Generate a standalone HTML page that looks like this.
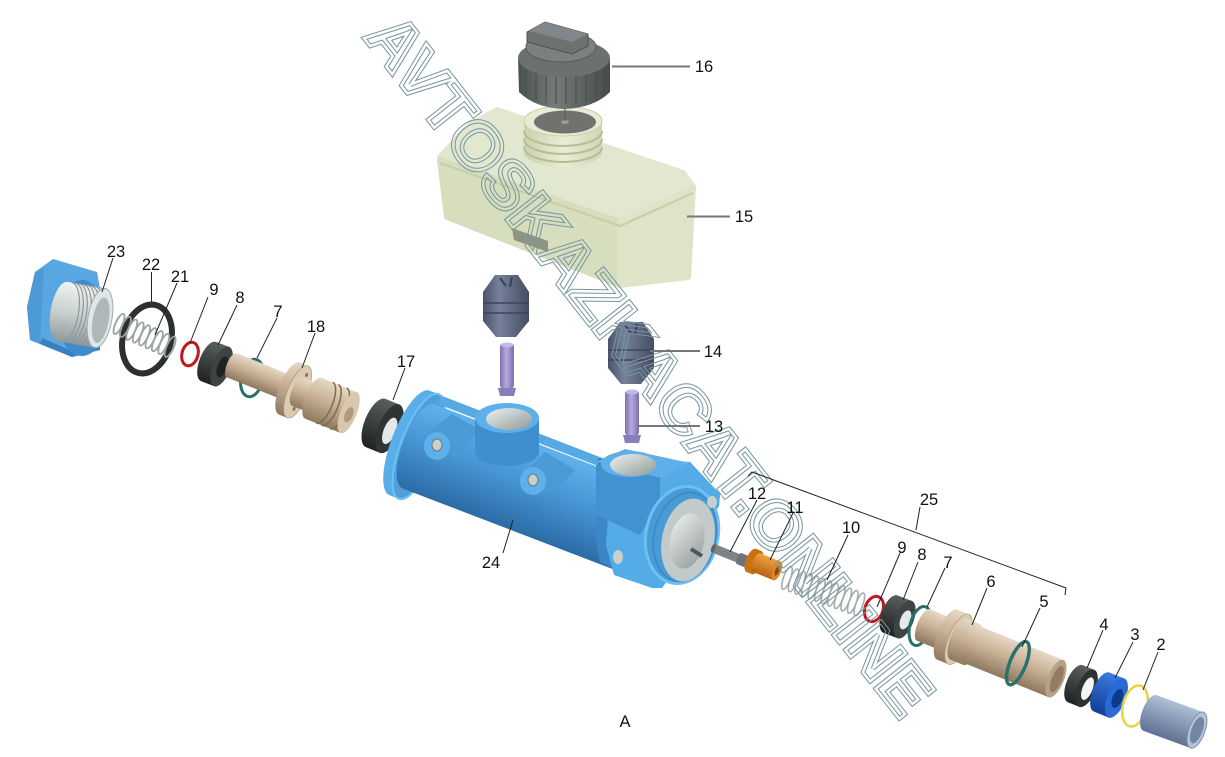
<!DOCTYPE html>
<html><head><meta charset="utf-8">
<style>
html,body{margin:0;padding:0;background:#fff;overflow:hidden;}
svg{display:block;}
.lb{font-family:"Liberation Sans",Arial,sans-serif;font-size:16.5px;fill:#111;text-anchor:middle;}
</style></head>
<body>
<svg width="1225" height="757" viewBox="0 0 1225 757" xmlns="http://www.w3.org/2000/svg">
<defs>
 <linearGradient id="gBlue" x1="0" y1="0" x2="0" y2="1"><stop offset="0" stop-color="#5fb2ec"/><stop offset="0.5" stop-color="#4592d0"/><stop offset="1" stop-color="#2b6ca6"/></linearGradient>
 <linearGradient id="gBeige" x1="0" y1="0" x2="0" y2="1"><stop offset="0" stop-color="#e6d8c4"/><stop offset="0.45" stop-color="#c9b296"/><stop offset="1" stop-color="#8e785e"/></linearGradient>
 <linearGradient id="gDark" x1="0" y1="0" x2="0" y2="1"><stop offset="0" stop-color="#5a5f60"/><stop offset="0.5" stop-color="#3c4041"/><stop offset="1" stop-color="#1f2223"/></linearGradient>
 <linearGradient id="gSilver" x1="0" y1="0" x2="0" y2="1"><stop offset="0" stop-color="#f0f4f4"/><stop offset="0.5" stop-color="#c8d0d0"/><stop offset="1" stop-color="#909a9a"/></linearGradient>
 <linearGradient id="gSlate" x1="0" y1="0" x2="1" y2="0"><stop offset="0" stop-color="#4a5369"/><stop offset="0.35" stop-color="#75809a"/><stop offset="1" stop-color="#454d62"/></linearGradient>
 <linearGradient id="gPin" x1="0" y1="0" x2="1" y2="0"><stop offset="0" stop-color="#7e70b0"/><stop offset="0.45" stop-color="#b6aade"/><stop offset="1" stop-color="#7c6fab"/></linearGradient>
 <linearGradient id="gCap" x1="0" y1="0" x2="1" y2="0"><stop offset="0" stop-color="#4a504e"/><stop offset="0.4" stop-color="#757b79"/><stop offset="1" stop-color="#454b49"/></linearGradient>
 <linearGradient id="gHole" x1="0" y1="0" x2="1" y2="1"><stop offset="0" stop-color="#eef2f0"/><stop offset="1" stop-color="#8f9a98"/></linearGradient>
 <linearGradient id="gNeck" x1="0" y1="0" x2="1" y2="0"><stop offset="0" stop-color="#c9d1b0"/><stop offset="0.5" stop-color="#e8eed5"/><stop offset="1" stop-color="#cfd6b6"/></linearGradient>
 <linearGradient id="gTube1" x1="0" y1="0" x2="0" y2="1"><stop offset="0" stop-color="#b0c0d6"/><stop offset="0.5" stop-color="#8497b4"/><stop offset="1" stop-color="#5f7292"/></linearGradient>
 <linearGradient id="gBlue3" x1="0" y1="0" x2="0" y2="1"><stop offset="0" stop-color="#3b7ae0"/><stop offset="1" stop-color="#123f98"/></linearGradient>
 <linearGradient id="gOrange" x1="0" y1="0" x2="0" y2="1"><stop offset="0" stop-color="#f0a040"/><stop offset="1" stop-color="#b86410"/></linearGradient>
 <mask id="wm" maskUnits="userSpaceOnUse" x="0" y="0" width="1225" height="757">
  <rect x="0" y="0" width="1225" height="757" fill="white"/>
  <text transform="translate(363,37) rotate(51.8)" font-family="Liberation Sans" font-weight="bold" font-size="66" textLength="870" lengthAdjust="spacingAndGlyphs" fill="none" stroke="black" stroke-width="2.5">AVTOSKAZKACAT.ONLINE</text>
 </mask>
</defs>

<!-- ===== LEFT SIDE ===== -->
<!-- 23 hex plug -->
<polygon points="27,307 35,272 53,259 97,272 102,300 100,350 72,357 30,340" fill="#58a6e2"/>
<polygon points="27,307 35,272 44,268 40,344 30,340" fill="#4d9ad6"/>
<polygon points="40,344 72,357 100,350 100,343 72,351 42,338" fill="#3a80c0"/>
<ellipse cx="82" cy="318" rx="24" ry="38" fill="#3f8ccc"/>
<g transform="translate(100,318) rotate(10)">
 <path d="M-38,-30 L0,-30 A12,30 0 0 1 0,30 L-38,30 A12,30 0 0 1 -38,-30 Z" fill="url(#gSilver)"/>
 <g fill="none" stroke="#8e9898" stroke-width="1.2">
  <path d="M-34,-30 A12,30 0 0 1 -34,30"/><path d="M-30,-30 A12,30 0 0 1 -30,30"/><path d="M-26,-30 A12,30 0 0 1 -26,30"/><path d="M-22,-30 A12,30 0 0 1 -22,30"/><path d="M-18,-30 A12,30 0 0 1 -18,30"/><path d="M-14,-30 A12,30 0 0 1 -14,30"/><path d="M-10,-30 A12,30 0 0 1 -10,30"/><path d="M-6,-30 A12,30 0 0 1 -6,30"/>
 </g>
 <ellipse cx="0" cy="0" rx="12" ry="30" fill="#dfe6e6" stroke="#a0aaaa"/>
 <ellipse cx="1" cy="2" rx="8" ry="23" fill="#aeb8b8"/>
</g>
<!-- 22 ring -->
<ellipse cx="147" cy="339" rx="24" ry="35" transform="rotate(15 147 339)" fill="none" stroke="#2c3030" stroke-width="6"/>
<!-- 21 spring -->
<g transform="translate(119,324) rotate(24)" fill="none" stroke="#9aa2a2" stroke-width="1.8">
 <ellipse cx="0" rx="3.5" ry="11"/><ellipse cx="7" rx="3.5" ry="11"/><ellipse cx="14" rx="3.5" ry="11"/><ellipse cx="21" rx="3.5" ry="11"/><ellipse cx="28" rx="3.5" ry="11"/><ellipse cx="35" rx="3.5" ry="11"/><ellipse cx="42" rx="3.5" ry="11"/><ellipse cx="49" rx="3.5" ry="11"/><ellipse cx="56" rx="3.5" ry="11"/>
</g>
<!-- 9 left -->
<ellipse cx="190" cy="354" rx="8" ry="12" transform="rotate(15 190 354)" fill="none" stroke="#c8141c" stroke-width="3"/>
<!-- 8 left -->
<g transform="translate(215,364) rotate(21)">
 <path d="M-7,-21 L7,-21 A9,21 0 0 1 7,21 L-7,21 A9,21 0 0 1 -7,-21 Z" fill="url(#gDark)"/>
 <ellipse cx="7" rx="9" ry="21" fill="#3e4344"/>
 <ellipse cx="8" rx="5" ry="11" fill="#1f2222"/>
</g>
<!-- 7 left -->
<ellipse cx="252" cy="378" rx="11" ry="19" transform="rotate(12 252 378)" fill="none" stroke="#2a6f6c" stroke-width="3"/>
<!-- 18 piston -->
<g transform="translate(293,390) rotate(22)">
 <path d="M-66,-13 L-4,-13 A5,13 0 0 1 -4,13 L-66,13 A5,13 0 0 1 -66,-13 Z" fill="url(#gBeige)"/>
 <path d="M-4,-28 L5,-28 A10,28 0 0 1 5,28 L-4,28 A10,28 0 0 1 -4,-28 Z" fill="url(#gBeige)"/>
 <ellipse cx="5" rx="10" ry="28" fill="#dccab2" stroke="#a89274" stroke-width="0.6"/>
 <ellipse cx="7" cy="-19" rx="1.5" ry="2" fill="#8a7660"/><ellipse cx="8" cy="17" rx="1.5" ry="2" fill="#8a7660"/>
 <path d="M5,-15 L22,-15 A6,15 0 0 1 22,15 L5,15 A6,15 0 0 1 5,-15 Z" fill="url(#gBeige)"/>
 <path d="M22,-22 L60,-22 A8,22 0 0 1 60,22 L22,22 A8,22 0 0 1 22,-22 Z" fill="url(#gBeige)"/>
 <g fill="none" stroke="#7d6a52" stroke-width="1.5"><path d="M34,-22 A8,22 0 0 1 34,22"/><path d="M40,-22 A8,22 0 0 1 40,22"/><path d="M49,-22 A8,22 0 0 1 49,22"/></g>
 <ellipse cx="60" rx="8" ry="22" fill="#d8c6ae"/>
 <ellipse cx="61" cy="2" rx="4" ry="8" fill="#b09a7e"/>
</g>
<!-- 17 seal -->
<g transform="translate(383,426) rotate(22)">
 <path d="M-8,-26 L7,-26 A11,26 0 0 1 7,26 L-8,26 A11,26 0 0 1 -8,-26 Z" fill="url(#gDark)"/>
 <ellipse cx="7" rx="11" ry="26" fill="#303435"/>
 <ellipse cx="8" cy="2" rx="6" ry="14" fill="#e4e8e8"/>
</g>

<!-- ===== BODY 24 ===== -->
<g transform="translate(415,445) rotate(21)">
 <path d="M-6,-56 L4,-56 A18,56 0 0 1 4,56 L-6,56 A18,56 0 0 1 -6,-56 Z" fill="#5aaee8"/>
 <ellipse cx="4" rx="18" ry="56" fill="#4f9fdc" stroke="#6cc0f4" stroke-width="2"/>
 <path d="M4,-45 L262,-45 A16,45 0 0 1 262,45 L4,45 A16,45 0 0 1 4,-45 Z" fill="url(#gBlue)"/>
</g>
<line x1="440" y1="400" x2="600" y2="462" stroke="#57a9e4" stroke-width="9"/>
<!-- ears -->
<polygon points="424,436 452,414 480,430 454,458" fill="#4a9ad6"/>
<ellipse cx="437" cy="446" rx="13" ry="14" fill="#5db0ea"/>
<ellipse cx="437" cy="445" rx="5" ry="6" fill="#c8d0ce" stroke="#777"/>
<polygon points="520,478 545,452 575,470 550,495" fill="#4a9ad6"/>
<ellipse cx="533" cy="481" rx="13" ry="14" fill="#5db0ea"/>
<ellipse cx="533" cy="480" rx="5" ry="6" fill="#c8d0ce" stroke="#777"/>
<!-- left boss -->
<path d="M475,418 L475,452 A32,14 0 0 0 539,452 L539,418 Z" fill="#3f8ecd"/>
<ellipse cx="507" cy="418" rx="32" ry="15" fill="#5db0ea"/>
<ellipse cx="509" cy="419" rx="23" ry="11" fill="url(#gHole)"/>
<!-- right flange -->
<polygon points="598,458 690,462 720,494 719,506 662,588 652,588 600,562 596,540" fill="#3b86c4"/>
<polygon points="612,462 690,462 720,494 719,506 662,588 652,588 614,575 606,545" fill="#55abe6"/>
<!-- right boss -->
<polygon points="596,465 596,515 640,535 660,500 660,465" fill="#4292d0"/>
<polygon points="596,462 625,449 690,463 662,478" fill="#5fb0ea"/>
<ellipse cx="630" cy="464" rx="29" ry="13" fill="#5fb0ea"/>
<ellipse cx="633" cy="465" rx="23" ry="11" fill="url(#gHole)"/>
<!-- flange face annulus -->
<ellipse cx="682" cy="535" rx="36" ry="49" transform="rotate(12 682 535)" fill="#4a9ad6" stroke="#6cc0f4" stroke-width="3"/>
<ellipse cx="685" cy="537" rx="31" ry="45" transform="rotate(12 685 537)" fill="none" stroke="#3a88c8" stroke-width="1.5"/>
<ellipse cx="688" cy="540" rx="26" ry="42" transform="rotate(12 688 540)" fill="#c3cbca"/>
<ellipse cx="687" cy="541" rx="17" ry="28" transform="rotate(12 687 541)" fill="url(#gHole)"/>
<line x1="691" y1="549" x2="702" y2="556" stroke="#4a5a5a" stroke-width="4"/>
<ellipse cx="712" cy="502" rx="5" ry="6" fill="#c8d0ce"/>
<ellipse cx="618" cy="557" rx="5" ry="7" fill="#c8d0ce"/>

<!-- ===== RESERVOIR 15 ===== -->
<g stroke-linejoin="round">
<polygon points="440,157 470,125 497,110 683,173 693,187 620,220" fill="#e2e8cf" stroke="#e2e8cf" stroke-width="6"/>
<polygon points="440,160 620,222 620,285 447,217" fill="#d6debe" stroke="#d6debe" stroke-width="6"/>
<polygon points="620,222 693,188 688,277 620,285" fill="#dde4c8" stroke="#dde4c8" stroke-width="6"/>
</g>
<polyline points="440,163 620,226 693,193" fill="none" stroke="#c6cea9" stroke-width="2"/>
<polygon points="512,228 548,241 548,252 514,240" fill="#8f9580"/>
<path d="M524,121 L524,152 A39,15 0 0 0 602,152 L602,121 Z" fill="url(#gNeck)"/>
<g fill="none" stroke="#b5bd98" stroke-width="2"><path d="M524,131 A39,15 0 0 0 602,131"/><path d="M524,139 A39,15 0 0 0 602,139"/><path d="M524,147 A39,15 0 0 0 602,147"/></g>
<ellipse cx="563" cy="121" rx="39" ry="15" fill="#e6ecd4" stroke="#c8d0ae"/>
<ellipse cx="565" cy="122" rx="31" ry="11.5" fill="#6f726d"/>
<ellipse cx="565" cy="122" rx="4" ry="2" fill="#9a9d98"/>
<line x1="565" y1="100" x2="565" y2="121" stroke="#555"/>

<!-- ===== CAP 16 ===== -->
<path d="M518,58 L519,92 Q535,108 564,109 Q594,108 610,92 L610,58 Z" fill="url(#gCap)"/>
<g stroke="#454b49" stroke-width="1"><line x1="526" y1="64" x2="526" y2="96"/><line x1="536" y1="66" x2="536" y2="100"/><line x1="546" y1="67" x2="546" y2="103"/><line x1="556" y1="68" x2="556" y2="104"/><line x1="566" y1="68" x2="566" y2="104"/><line x1="576" y1="68" x2="576" y2="104"/><line x1="586" y1="67" x2="586" y2="102"/><line x1="596" y1="66" x2="596" y2="100"/><line x1="604" y1="64" x2="604" y2="96"/></g>
<ellipse cx="564" cy="58" rx="46" ry="19" fill="#6b716f"/>
<ellipse cx="561" cy="47" rx="35" ry="15" fill="#7b817f" stroke="#575d5b"/>
<polygon points="527,32 545,22 588,34 588,46 572,54 527,42" fill="#6c7270" stroke="#4d5351"/>
<polygon points="545,22 588,34 572,42 529,31" fill="#80868a"/>

<!-- ===== GROMMETS 14 & PINS 13 ===== -->
<g>
<path d="M495,275 L518,275 L529,292 L529,321 L516,337 L496,337 L483,321 L483,292 Z" fill="url(#gSlate)"/>
<g stroke="#3d4558" stroke-width="1.5"><line x1="483" y1="303" x2="529" y2="303"/><line x1="483" y1="313" x2="529" y2="313"/></g>
<path d="M500,278 L506,286 M512,277 L510,287" stroke="#3a4255" stroke-width="2"/>
</g>
<g transform="translate(125,47)">
<path d="M495,275 L518,275 L529,292 L529,321 L516,337 L496,337 L483,321 L483,292 Z" fill="url(#gSlate)"/>
<g stroke="#3d4558" stroke-width="1.5"><line x1="483" y1="303" x2="529" y2="303"/><line x1="483" y1="313" x2="529" y2="313"/></g>
<path d="M500,278 L506,286 M512,277 L510,287" stroke="#3a4255" stroke-width="2"/>
</g>
<g>
<rect x="500" y="343" width="14" height="46" rx="4" fill="url(#gPin)"/>
<path d="M498,388 L516,388 L514,396 L500,396 Z" fill="#8a7dbc"/>
<ellipse cx="507" cy="345" rx="6" ry="2.5" fill="#c4b8e6"/>
</g>
<g transform="translate(125,47)">
<rect x="500" y="343" width="14" height="46" rx="4" fill="url(#gPin)"/>
<path d="M498,388 L516,388 L514,396 L500,396 Z" fill="#8a7dbc"/>
<ellipse cx="507" cy="345" rx="6" ry="2.5" fill="#c4b8e6"/>
</g>

<!-- ===== RIGHT SIDE ===== -->
<!-- 12 bolt -->
<g transform="translate(730,555) rotate(22)">
 <path d="M-18,-4.5 L10,-4.5 A2,4.5 0 0 1 10,4.5 L-18,4.5 A2,4.5 0 0 1 -18,-4.5 Z" fill="#7e8485"/>
 <path d="M10,-6 L18,-6 A2.5,6 0 0 1 18,6 L10,6 A2.5,6 0 0 1 10,-6 Z" fill="#6e7475"/>
 <ellipse cx="-18" rx="2" ry="4.5" fill="#5e6465"/>
</g>
<!-- 11 orange -->
<g transform="translate(765,566) rotate(22)">
 <path d="M-15,-12.5 L-9,-12.5 A5,12.5 0 0 1 -9,12.5 L-15,12.5 A5,12.5 0 0 1 -15,-12.5 Z" fill="#c8720f"/>
 <path d="M-9,-10 L13,-10 A4,10 0 0 1 13,10 L-9,10 A4,10 0 0 1 -9,-10 Z" fill="url(#gOrange)"/>
 <ellipse cx="13" rx="4" ry="10" fill="#d88a2a"/>
 <ellipse cx="13" rx="2" ry="5" fill="#8a4a08"/>
</g>
<!-- 10 spring -->
<g transform="translate(787,578) rotate(20)" fill="none" stroke="#a4acac" stroke-width="1.6">
 <ellipse cx="0" rx="3.5" ry="12"/><ellipse cx="7" rx="3.5" ry="12"/><ellipse cx="14" rx="3.5" ry="12"/><ellipse cx="21" rx="3.5" ry="12"/><ellipse cx="28" rx="3.5" ry="12"/><ellipse cx="35" rx="3.5" ry="12"/><ellipse cx="42" rx="3.5" ry="12"/><ellipse cx="49" rx="3.5" ry="12"/><ellipse cx="56" rx="3.5" ry="12"/><ellipse cx="63" rx="3.5" ry="12"/><ellipse cx="70" rx="3.5" ry="12"/><ellipse cx="77" rx="3.5" ry="12"/>
</g>
<!-- 9 right -->
<ellipse cx="874" cy="609" rx="9" ry="13" transform="rotate(20 874 609)" fill="none" stroke="#c8141c" stroke-width="3"/>
<!-- 8 right -->
<g transform="translate(898,617) rotate(21)">
 <path d="M-8,-20 L7,-20 A9,20 0 0 1 7,20 L-8,20 A9,20 0 0 1 -8,-20 Z" fill="url(#gDark)"/>
 <ellipse cx="7" rx="9" ry="20" fill="#3e4344"/>
 <ellipse cx="8" rx="5" ry="10" fill="#e6e9e9"/>
</g>
<!-- 7 right -->
<ellipse cx="920" cy="626" rx="10" ry="20" transform="rotate(15 920 626)" fill="none" stroke="#2a6f6c" stroke-width="3"/>
<!-- 6 piston + 5 ring -->
<g transform="translate(953,637) rotate(22)">
 <path d="M-32,-17 L-6,-17 A6,17 0 0 1 -6,17 L-32,17 A6,17 0 0 1 -32,-17 Z" fill="url(#gBeige)"/>
 <path d="M-6,-27 L6,-27 A10,27 0 0 1 6,27 L-6,27 A10,27 0 0 1 -6,-27 Z" fill="url(#gBeige)"/>
 <ellipse cx="6" rx="10" ry="27" fill="#dccab2" stroke="#a89274" stroke-width="0.6"/>
 <ellipse cx="8" cy="-18" rx="1.5" ry="2" fill="#8a7660"/><ellipse cx="9" cy="16" rx="1.5" ry="2" fill="#8a7660"/>
 <path d="M6,-22 L20,-22 A8,22 0 0 1 20,22 L6,22 A8,22 0 0 1 6,-22 Z" fill="url(#gBeige)"/>
 <path d="M20,-20 L111,-20 A8,20 0 0 1 111,20 L20,20 A8,20 0 0 1 20,-20 Z" fill="url(#gBeige)"/>
 <ellipse cx="111" rx="8" ry="20" fill="#b8a286"/>
 <ellipse cx="112" rx="5" ry="14" fill="#927c62"/>
 <ellipse cx="70" rx="8" ry="23" fill="none" stroke="#2b716e" stroke-width="3.5"/>
</g>
<!-- 4 -->
<g transform="translate(1081,686) rotate(22)">
 <path d="M-6,-20 L6,-20 A9,20 0 0 1 6,20 L-6,20 A9,20 0 0 1 -6,-20 Z" fill="url(#gDark)"/>
 <ellipse cx="6" rx="9" ry="20" fill="#2e3233"/>
 <ellipse cx="7" rx="5" ry="12" fill="#f4f4f4"/>
</g>
<!-- 3 -->
<g transform="translate(1109,695) rotate(22)">
 <path d="M-8,-21 L8,-21 A9,21 0 0 1 8,21 L-8,21 A9,21 0 0 1 -8,-21 Z" fill="url(#gBlue3)"/>
 <ellipse cx="8" rx="9" ry="21" fill="#2a6ad6"/>
 <ellipse cx="9" rx="5" ry="10" fill="#0c3a8c"/>
</g>
<!-- 2 -->
<ellipse cx="1135" cy="706" rx="12" ry="21" transform="rotate(15 1135 706)" fill="none" stroke="#e8d43e" stroke-width="2.5"/>
<!-- 1 tube -->
<g transform="translate(1150,713) rotate(20)">
 <path d="M0,-19 L50,-19 A8,19 0 0 1 50,19 L0,19 A8,19 0 0 1 0,-19 Z" fill="url(#gTube1)"/>
 <ellipse cx="50" rx="8" ry="19" fill="#b4c4d8" stroke="#7d90ad"/>
 <ellipse cx="50" rx="5.5" ry="14" fill="#7286a6"/>
</g>

<!-- ===== WATERMARK ===== -->
<g mask="url(#wm)">
<text transform="translate(363,37) rotate(51.8)" font-family="Liberation Sans" font-weight="bold" font-size="66" textLength="870" lengthAdjust="spacingAndGlyphs" fill="none" stroke="#7896a0" stroke-width="4.5">AVTOSKAZKACAT.ONLINE</text>
</g>

<!-- ===== LEADERS ===== -->
<g stroke="#777" stroke-width="2">
 <line x1="612" y1="66.5" x2="690" y2="66.5"/>
 <line x1="687" y1="216.5" x2="730" y2="216.5"/>
 <line x1="650" y1="351" x2="700" y2="351"/>
 <line x1="637" y1="426" x2="700" y2="426"/>
</g>
<g stroke="#222" stroke-width="1" fill="none">
 <line x1="113" y1="258" x2="102" y2="292"/>
 <line x1="151.5" y1="272" x2="151.5" y2="302"/>
 <line x1="177" y1="283" x2="155" y2="335"/>
 <line x1="208" y1="297" x2="190" y2="343"/>
 <line x1="237" y1="305" x2="218" y2="345"/>
 <line x1="277" y1="318" x2="257" y2="358"/>
 <line x1="315" y1="333" x2="302" y2="368"/>
 <line x1="405" y1="368" x2="393" y2="400"/>
 <line x1="513" y1="520" x2="503" y2="553"/>
 <polyline points="748,476 752,472 1066,588 1065,595"/>
 <line x1="920" y1="507" x2="916" y2="530"/>
 <line x1="757" y1="500" x2="730" y2="552"/>
 <line x1="793" y1="513" x2="770" y2="560"/>
 <line x1="848" y1="535" x2="827" y2="580"/>
 <line x1="900" y1="553" x2="877" y2="607"/>
 <line x1="918" y1="562" x2="903" y2="600"/>
 <line x1="945" y1="568" x2="927" y2="607"/>
 <line x1="987" y1="588" x2="972" y2="625"/>
 <line x1="1040" y1="608" x2="1022" y2="647"/>
 <line x1="1103" y1="630" x2="1087" y2="668"/>
 <line x1="1133" y1="642" x2="1115" y2="678"/>
 <line x1="1158" y1="652" x2="1143" y2="690"/>
</g>

<!-- ===== LABELS ===== -->
<text class="lb" x="704" y="72">16</text>
<text class="lb" x="744" y="222">15</text>
<text class="lb" x="713" y="357">14</text>
<text class="lb" x="714" y="432">13</text>
<text class="lb" x="116" y="257">23</text>
<text class="lb" x="151" y="270">22</text>
<text class="lb" x="180" y="282">21</text>
<text class="lb" x="214" y="295">9</text>
<text class="lb" x="240" y="303">8</text>
<text class="lb" x="278" y="317">7</text>
<text class="lb" x="316" y="332">18</text>
<text class="lb" x="406" y="367">17</text>
<text class="lb" x="491" y="568">24</text>
<text class="lb" x="929" y="505">25</text>
<text class="lb" x="757" y="499">12</text>
<text class="lb" x="795" y="513">11</text>
<text class="lb" x="851" y="533">10</text>
<text class="lb" x="902" y="553">9</text>
<text class="lb" x="922" y="560">8</text>
<text class="lb" x="948" y="568">7</text>
<text class="lb" x="991" y="587">6</text>
<text class="lb" x="1044" y="607">5</text>
<text class="lb" x="1104" y="630">4</text>
<text class="lb" x="1135" y="640">3</text>
<text class="lb" x="1161" y="650">2</text>
<text class="lb" x="625" y="727">A</text>
</svg>
</body></html>
